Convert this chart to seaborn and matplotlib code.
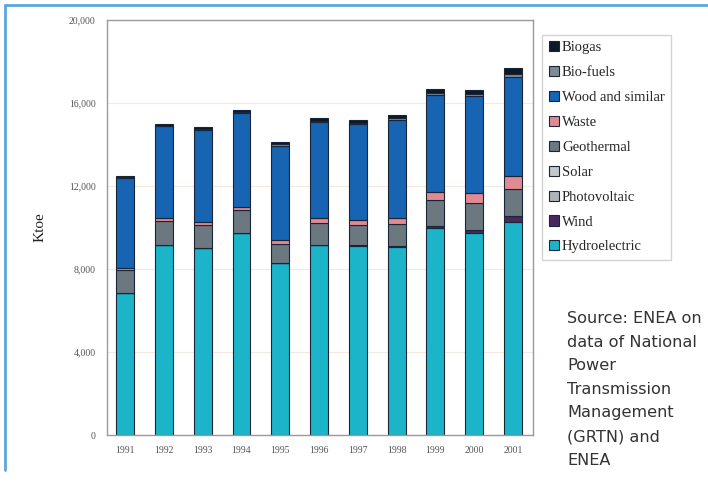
import numpy as np
import pandas as pd
import matplotlib
matplotlib.use("Agg")
import matplotlib.pyplot as plt
import seaborn as sns
from matplotlib.lines import Line2D

# data (ktoe)
years = [1991, 1992, 1993, 1994, 1995, 1996, 1997, 1998, 1999, 2000, 2001]
sources = ['Biogas', 'Bio-fuels', 'Wood and similar', 'Waste', 'Geothermal',
           'Solar', 'Photovoltaic', 'Wind', 'Hydroelectric']
hydro = [6840, 9160, 9010, 9740, 8290, 9160, 9110, 9060, 9980, 9740, 10270]
wind = [0, 0, 1, 2, 2, 8, 25, 50, 90, 130, 280]
photovoltaic = [1, 1, 2, 2, 2, 2, 3, 3, 3, 4, 4]
solar = [5, 6, 6, 7, 7, 8, 8, 9, 10, 11, 12]
geothermal = [1090, 1160, 1090, 1070, 900, 1060, 970, 1040, 1230, 1280, 1300]
waste = [100, 130, 150, 170, 190, 220, 250, 300, 400, 480, 600]
wood = [4370, 4420, 4460, 4520, 4560, 4630, 4610, 4720, 4695, 4690, 4810]
biofuels = [10, 20, 30, 40, 50, 60, 70, 80, 90, 100, 110]
biogas = [80, 100, 100, 110, 120, 130, 140, 160, 180, 200, 300]
y_ticks = [0, 4000, 8000, 12000, 16000, 20000]
y_labels = ['0', '4,000', '8,000', '12,000', '16,000', '20,000']

series = {'Biogas': biogas, 'Bio-fuels': biofuels, 'Wood and similar': wood,
          'Waste': waste, 'Geothermal': geothermal, 'Solar': solar,
          'Photovoltaic': photovoltaic, 'Wind': wind, 'Hydroelectric': hydro}
rows = []
for s in sources:
    for y, v in zip(years, series[s]):
        rows.append({'year': y, 'source': s, 'ktoe': v})
df = pd.DataFrame(rows)

colors = {'Biogas': '#0d1828', 'Bio-fuels': '#7f8b95', 'Wood and similar': '#1664b2',
          'Waste': '#e08a94', 'Geothermal': '#6b7880', 'Solar': '#c4c8ca',
          'Photovoltaic': '#aeb3b8', 'Wind': '#4a2a5e', 'Hydroelectric': '#1bb4c8'}

sns.set_style('white')
plt.rcParams['font.family'] = ['Liberation Serif', 'DejaVu Serif']

fig = plt.figure(figsize=(7.08, 4.82), dpi=100)
ax = fig.add_axes([0.151, 0.0975, 0.602, 0.861])

sns.histplot(data=df, x='year', weights='ktoe', hue='source', hue_order=sources,
             multiple='stack', discrete=True, shrink=0.46, palette=colors,
             alpha=1, edgecolor='#1a2638', linewidth=0.8, ax=ax)

ax.set_xlim(1990.53, 2001.52)
ax.set_ylim(0, 20000)
ax.set_xticks(years)
ax.set_xticklabels([str(y) for y in years], fontsize=7, color='#555555')
ax.set_yticks(y_ticks)
ax.set_yticklabels(y_labels, fontsize=7, color='#555555')
ax.tick_params(axis='both', length=3, width=0.6, color='#999999', pad=5)
ax.set_xlabel('')
ax.set_ylabel('Ktoe', fontsize=11, color='#222222', labelpad=16)
ax.yaxis.grid(True, color='#f4e9df', linewidth=0.8)
ax.set_axisbelow(True)
for sp in ax.spines.values():
    sp.set_color('#9a9a9a')
    sp.set_linewidth(1.0)

sns.move_legend(ax, 'upper left', bbox_to_anchor=(0.766, 0.928),
                bbox_transform=fig.transFigure, title=None, frameon=True,
                fontsize=10.5, handlelength=0.7, handleheight=0.7,
                handletextpad=0.2, labelspacing=0.8, borderpad=0.45,
                borderaxespad=0, fancybox=False, edgecolor='#c8c8c8')

fig.text(0.801, 0.355,
         'Source: ENEA on\ndata of National\nPower\nTransmission\nManagement\n(GRTN) and\nENEA',
         ha='left', va='top', fontsize=11.6, family=['DejaVu Sans'],
         color='#333333', linespacing=1.72)

# light blue page frame
fig.add_artist(Line2D([0.007, 1.0], [0.990, 0.990], transform=fig.transFigure,
                      color='#5ea5de', linewidth=2))
fig.add_artist(Line2D([0.007, 0.007], [0.990, 0.025], transform=fig.transFigure,
                      color='#5ea5de', linewidth=2))

fig.savefig('out.png', dpi=100)
